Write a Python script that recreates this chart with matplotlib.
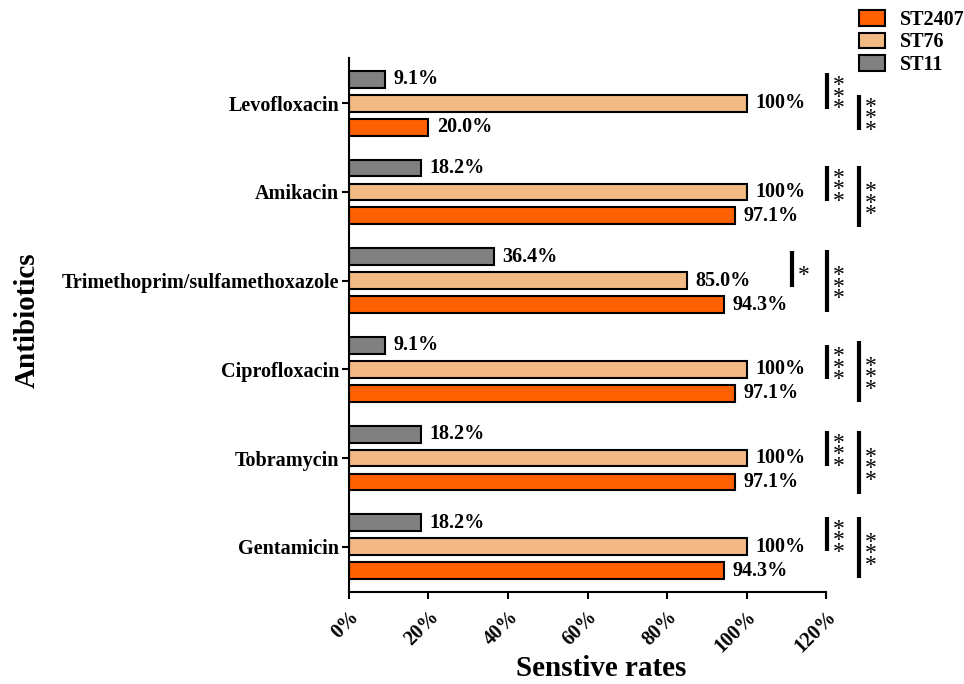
import numpy as np
import matplotlib
matplotlib.use("Agg")
import matplotlib.pyplot as plt
import matplotlib.patches as patches
from matplotlib.ticker import FuncFormatter

plt.rcParams['font.family'] = ['Liberation Serif', 'DejaVu Serif']
plt.rcParams['font.weight'] = 'bold'

# Sensitivity rates (%) per antibiotic, listed top to bottom
antibiotics = ['Levofloxacin', 'Amikacin', 'Trimethoprim/sulfamethoxazole',
               'Ciprofloxacin', 'Tobramycin', 'Gentamicin']
st11 = [9.1, 18.2, 36.4, 9.1, 18.2, 18.2]
st76 = [100, 100, 85.0, 100, 100, 100]
st2407 = [20.0, 97.1, 94.3, 97.1, 97.1, 94.3]

series_names = ['ST2407', 'ST76', 'ST11']
colors = {'ST2407': '#ff6000', 'ST76': '#f2b985', 'ST11': '#808080'}

# significance marks: (category, x position %, y start, y end offset, stars)
sig_marks = [
    (0, 120.3, -0.34, 0.06, 3), (0, 128.3, -0.09, 0.30, 3),
    (1, 120.3, -0.29, 0.10, 3), (1, 128.3, -0.29, 0.40, 3),
    (2, 111.5, -0.33, 0.07, 1), (2, 120.3, -0.34, 0.35, 3),
    (3, 120.3, -0.28, 0.11, 3), (3, 128.3, -0.32, 0.37, 3),
    (4, 120.3, -0.30, 0.09, 3), (4, 128.3, -0.30, 0.40, 3),
    (5, 120.3, -0.33, 0.05, 3), (5, 128.3, -0.33, 0.35, 3),
]

fig = plt.figure(figsize=(9.64, 6.84), dpi=100)
ax = fig.add_axes([0.362, 0.1345, 0.495, 0.7807])

y = np.arange(len(antibiotics))
step = 0.27
h = 0.19
groups = [(st11, 'ST11', -step), (st76, 'ST76', 0.0), (st2407, 'ST2407', step)]
for vals, name, off in groups:
    bars = ax.barh(y + off, vals, height=h, color=colors[name],
                   edgecolor='black', linewidth=1.5, label=name)
    for b, v in zip(bars, vals):
        txt = '100%' if v == 100 else f'{v:.1f}%'
        ax.annotate(txt, (v, b.get_y() + h / 2), xytext=(6, 0),
                    textcoords='offset points', va='center', ha='left',
                    fontsize=14.5, fontweight='bold')

ax.set_xlim(0, 120)
ax.set_ylim(len(antibiotics) - 0.49, -0.51)
ax.set_xticks(np.arange(0, 121, 20))
ax.xaxis.set_major_formatter(FuncFormatter(lambda v, p: f'{v:.0f}%'))
ax.set_yticks(y)
ax.set_yticklabels(antibiotics, fontsize=14.5, fontweight='bold')
for lbl in ax.get_xticklabels():
    lbl.set_rotation(45)
    lbl.set_ha('right')
    lbl.set_rotation_mode('anchor')
    lbl.set_fontsize(14.5)
    lbl.set_fontweight('bold')
ax.tick_params(axis='both', width=1.5, length=5, direction='out')
ax.tick_params(axis='x', pad=6)
ax.tick_params(axis='y', pad=2)
for s in ['top', 'right']:
    ax.spines[s].set_visible(False)
for s in ['left', 'bottom']:
    ax.spines[s].set_linewidth(1.5)

fig.text(0.624, 1 - 668 / 684, 'Senstive rates', fontsize=21, fontweight='bold',
         ha='center', va='center')
fig.text(27 / 964, 1 - 320 / 684, 'Antibiotics', fontsize=21, fontweight='bold',
         ha='center', va='center', rotation=90)

# significance brackets with stacked asterisks
for cat, xp, y0, y1, n in sig_marks:
    ax.plot([xp, xp], [cat + y0, cat + y1], color='black', lw=3,
            clip_on=False, solid_capstyle='butt')
    mid = cat + (y0 + y1) / 2
    for k in range(n):
        yy = mid + (k - (n - 1) / 2) * 0.13 + 0.07
        ax.text(xp + 2.8, yy, '*', fontsize=17, fontweight='normal',
                ha='center', va='center', clip_on=False)

handles = [patches.Patch(facecolor=colors[n], edgecolor='black', linewidth=1.5, label=n)
           for n in series_names]
fig.legend(handles=handles, loc='upper left', bbox_to_anchor=(0.876, 1.006),
           frameon=False, fontsize=14.5, handlelength=1.3, handleheight=0.8,
           handletextpad=0.75, labelspacing=0.12, borderpad=0.2)

fig.savefig('out.png', dpi=100)
